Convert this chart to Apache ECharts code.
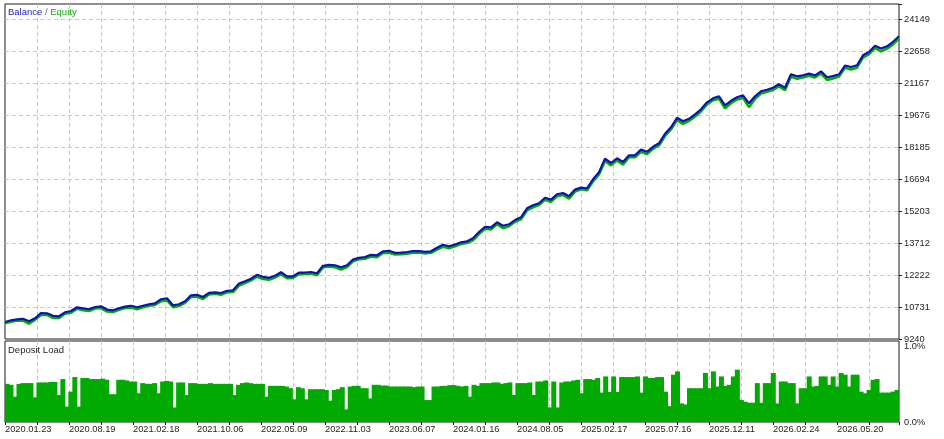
<!DOCTYPE html>
<html>
<head>
<meta charset="utf-8">
<script src="https://cdn.jsdelivr.net/npm/echarts@6/dist/echarts.min.js"></script>
<style>
html,body{margin:0;padding:0;background:#fff;}
#c{width:944px;height:439px;}
</style>
</head>
<body>
<div id="c"></div>
<script>
// ---- data ----
const dateLabels = ['2020.01.23','2020.08.19','2021.02.18','2021.10.06','2022.05.09','2022.11.03','2023.06.07','2024.01.16','2024.08.05','2025.02.17','2025.07.16','2025.12.11','2026.02.24','2026.05.20'];
const yTickLabels = ['9240','10731','12222','13712','15203','16694','18185','19676','21167','22658','24149'];
const loadTickLabels = ['0.0%','1.0%'];
const yStart = 9239.75;
const yStep = 1490.9;

const balance = [10032,10111,10158,10181,10065,10204,10451,10437,10321,10298,
10484,10545,10717,10670,10624,10731,10763,10610,10577,10670,
10749,10787,10717,10787,10857,10903,11090,11136,10810,10857,
10996,11276,11299,11197,11392,11416,11383,11486,11509,11821,
11928,12045,12231,12138,12091,12184,12348,12161,12161,12334,
12338,12362,12301,12650,12697,12674,12580,12674,12939,13023,
13060,13163,13140,13326,13349,13256,13265,13293,13335,13340,
13303,13326,13489,13629,13559,13643,13745,13792,13932,14225,
14467,14444,14677,14514,14584,14780,14910,15329,15469,15562,
15818,15735,15982,16042,15888,16200,16294,16261,16680,17006,
17645,17440,17659,17486,17799,17799,18064,17962,18194,18358,
18800,19103,19546,19383,19499,19709,19942,20268,20454,20547,
20128,20338,20501,20594,20221,20547,20780,20850,20943,21106,
20943,21572,21479,21526,21605,21526,21712,21433,21488,21572,
21982,21912,21991,22457,22611,22900,22770,22877,23086,23343];

const equity = [9972,10041,10098,10101,9955,10134,10361,10367,10231,10218,
10414,10465,10647,10580,10544,10661,10683,10520,10497,10600,
10679,10707,10627,10717,10787,10823,11000,11036,10720,10777,
10926,11196,11219,11107,11312,11346,11303,11416,11429,11731,
11848,11975,12141,12038,12001,12104,12258,12071,12081,12264,
12268,12292,12211,12570,12617,12584,12480,12594,12859,12953,
12980,13083,13050,13246,13259,13176,13195,13213,13255,13270,
13223,13256,13409,13539,13469,13563,13665,13712,13842,14125,
14377,14344,14587,14404,14494,14700,14820,15229,15379,15482,
15728,15635,15892,15952,15778,16110,16214,16171,16580,16906,
17535,17330,17559,17366,17709,17709,17964,17852,18104,18258,
18700,19003,19436,19263,19399,19609,19842,20168,20364,20437,
19988,20228,20401,20474,20041,20427,20680,20760,20843,21006,
20833,21472,21369,21426,21505,21426,21602,21313,21378,21472,
21872,21792,21881,22347,22511,22790,22640,22767,22966,23233];

const depositLoad = [0.471,0.459,0.313,0.471,0.48,0.48,0.48,0.305,0.488,0.488,
0.488,0.495,0.495,0.333,0.53,0.19,0.375,0.555,0.19,0.543,
0.543,0.53,0.53,0.53,0.535,0.521,0.343,0.343,0.521,0.521,
0.513,0.50,0.50,0.355,0.48,0.471,0.471,0.48,0.355,0.50,
0.508,0.50,0.18,0.488,0.488,0.333,0.48,0.48,0.471,0.471,
0.471,0.48,0.471,0.471,0.471,0.471,0.471,0.333,0.459,0.48,
0.488,0.48,0.471,0.471,0.471,0.313,0.446,0.446,0.446,0.446,
0.438,0.417,0.28,0.43,
0.417,0.28,0.405,0.405,0.405,0.405,0.396,0.263,0.396,0.405,
0.43,0.155,0.438,0.446,0.446,0.417,0.417,0.292,0.459,0.459,
0.45,0.45,0.438,0.438,0.438,0.438,0.438,0.438,0.43,0.438,
0.438,0.271,0.271,0.438,0.438,0.446,0.446,0.455,0.455,0.446,
0.438,0.446,0.313,0.459,0.446,0.48,0.48,0.48,0.488,0.488,
0.471,0.48,0.488,0.333,0.48,0.48,0.48,0.488,0.333,0.50,
0.50,0.513,0.18,0.50,0.18,0.488,0.50,0.50,0.513,0.521,
0.355,0.53,0.53,0.521,0.543,
0.363,0.5625,0.371,0.5625,0.371,0.555,0.555,0.555,0.555,0.5625,
0.363,0.5625,0.543,0.543,0.555,0.555,0.375,0.196,0.584,0.625,
0.23,0.217,0.417,0.417,0.417,0.417,0.605,0.417,0.625,0.438,
0.5625,0.446,0.459,0.5625,0.646,0.271,0.25,0.238,0.238,0.48,
0.238,0.48,0.48,0.605,0.23,0.50,0.50,0.48,0.48,0.23,
0.417,0.417,0.5625,0.438,0.446,0.5625,0.5625,0.459,0.5625,0.438,
0.605,0.584,0.438,0.584,0.584,0.375,0.355,0.396,0.521,0.53,
0.363,0.363,0.363,0.375,0.396];

// ---- layout ----
const G0 = {left:5, top:4, width:894, height:335};
const G1 = {left:5, top:341, width:894, height:81};
const PX = 32;
const xUnits = G0.width / PX;
const yUnits = G0.height / PX;
const FONT = 'Liberation Sans, Arial, sans-serif';
const gridLine = {show:true, showMinLine:false, showMaxLine:false, lineStyle:{color:'#c8c8c8', type:[4,3], width:1}};

const chart = echarts.init(document.getElementById('c'), null, {renderer:'canvas'});
chart.setOption({
  animation:false,
  backgroundColor:'#ffffff',
  grid:[
    Object.assign({show:true, borderColor:'#1a1a1a', borderWidth:1, backgroundColor:'transparent'}, G0),
    Object.assign({show:true, borderColor:'#1a1a1a', borderWidth:1, backgroundColor:'transparent'}, G1)
  ],
  graphic:[
    {type:'text', left:8, top:7, z:100, style:{
      text:'{b|Balance} {s|/} {e|Equity}', font:'9.5px '+FONT,
      rich:{b:{fill:'#1e1eb9', font:'9.5px '+FONT}, s:{fill:'#5a5a9a', font:'9.5px '+FONT}, e:{fill:'#10ad10', font:'9.5px '+FONT}}
    }},
    {type:'text', left:8, top:345, z:100, style:{text:'Deposit Load', fill:'#1e1e1e', font:'9.5px '+FONT}}
  ],
  xAxis:[
    {gridIndex:0, type:'value', min:0, max:xUnits, interval:1, axisLine:{show:false}, axisTick:{show:false}, axisLabel:{show:false}, splitLine:gridLine},
    {gridIndex:0, type:'category', boundaryGap:false, data:balance.map((_, i) => i), show:false},
    {gridIndex:1, type:'value', min:0, max:xUnits, interval:1, axisLine:{show:false},
      axisTick:{show:true, length:3, lineStyle:{color:'#1a1a1a'}},
      axisLabel:{show:true, align:'left', margin:3, color:'#1e1e1e', fontSize:9.3, fontFamily:FONT, hideOverlap:false, showMaxLabel:true,
        formatter:v => (Number.isInteger(v) && v % 2 === 0 && dateLabels[v/2]) ? dateLabels[v/2] : ''},
      splitLine:gridLine},
    {gridIndex:1, type:'category', boundaryGap:true, data:depositLoad.map((_, i) => i), show:false}
  ],
  yAxis:[
    {gridIndex:0, type:'value', min:yStart, max:yStart + yUnits*yStep, show:false},
    {gridIndex:0, type:'value', position:'right', min:0, max:yUnits, interval:1,
      axisLine:{show:false}, axisTick:{show:true, length:3, lineStyle:{color:'#1a1a1a'}},
      axisLabel:{show:true, margin:5, color:'#1e1e1e', fontSize:9.3, fontFamily:FONT,
        formatter:v => (Number.isInteger(v) && yTickLabels[v]) ? yTickLabels[v] : ''},
      splitLine:gridLine},
    {gridIndex:1, type:'value', position:'right', min:0, max:1, interval:1,
      axisLine:{show:false}, axisTick:{show:false},
      axisLabel:{show:true, margin:5, color:'#1e1e1e', fontSize:9.3, fontFamily:FONT,
        formatter:v => v === 1 ? '{t|' + loadTickLabels[1] + '}' : loadTickLabels[0],
        rich:{t:{padding:[11,0,0,0], color:'#1e1e1e', fontSize:9.3, fontFamily:FONT}}},
      splitLine:{show:false}}
  ],
  series:[
    {type:'line', name:'Equity', xAxisIndex:1, yAxisIndex:0, data:equity, symbol:'none', lineStyle:{color:'#00b000', width:2.6}, z:2},
    {type:'line', name:'Balance', xAxisIndex:1, yAxisIndex:0, data:balance, symbol:'none', lineStyle:{color:'#0c12b4', width:2.2}, z:3},
    {type:'bar', name:'Deposit Load', xAxisIndex:3, yAxisIndex:2, data:depositLoad, barWidth:5, barGap:'-100%', itemStyle:{color:'#00aa00', borderWidth:0}, z:2}
  ]
});
</script>
</body>
</html>
